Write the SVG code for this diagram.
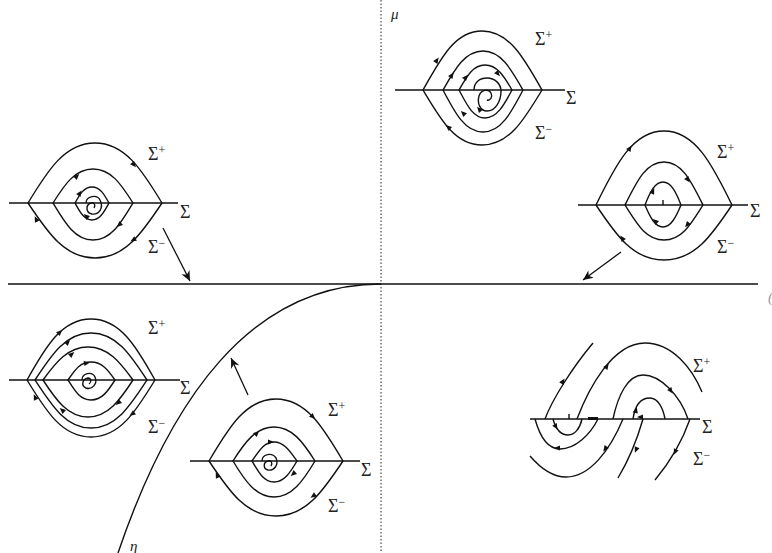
<svg xmlns="http://www.w3.org/2000/svg" xmlns:xlink="http://www.w3.org/1999/xlink" width="772" height="553" viewBox="0 0 772 553">
<style>
.c{fill:none;stroke:#111;stroke-width:1.4}
.s{fill:none;stroke:#111;stroke-width:1.5}
.ax{fill:none;stroke:#111;stroke-width:1.6}
.dot{fill:none;stroke:#222;stroke-width:1;stroke-dasharray:1.5 2}
.cn{fill:none;stroke:#111;stroke-width:1.3}
.l{font-family:"Liberation Serif","DejaVu Serif",serif;font-size:18px;fill:#222}
.sup{font-size:12px}
.it{font-family:"Liberation Serif","DejaVu Serif",serif;font-style:italic;font-size:15px;fill:#222}
.ah{fill:#111}
</style>
<defs>
<path id="t" class="ah" d="M3,0 L-3,-2.6 L-3,2.6Z"/>
<marker id="arr" viewBox="0 0 10 10" refX="10" refY="5" markerWidth="10" markerHeight="10" markerUnits="userSpaceOnUse" orient="auto">
<path d="M0,0.5 L10,5 L0,9.5 L3,5Z" fill="#111"/>
</marker>
</defs>
<rect width="772" height="553" fill="#fff"/>

<g id="axes">
<line class="ax" x1="8" y1="284" x2="758" y2="284"/>
<line class="dot" x1="381" y1="0" x2="381" y2="553"/>
<path class="c" d="M381,284 C250,284 170,400 118,553"/>
<text class="it" x="391" y="19">μ</text>
<text class="it" x="130" y="551">η</text>
<text class="it" x="768" y="302" style="fill:#999">(</text>
</g>

<g id="node-top-left">
<line class="s" x1="9" y1="203" x2="178" y2="203"/>
<path class="c" d="M28,203 C48,170 65,143 95,143 S142,170 162,203 C142,233 125,258 95,258 S48,233 28,203Z"/>
<path class="c" d="M53,203 C65,184 75,169 93,169 S121,184 133,203 C121,223 111,240 93,240 S65,223 53,203Z"/>
<path class="c" d="M75,203 C80,194 84,187 92,187 S104,194 109,203 C104,212 100,220 92,220 S80,212 75,203Z"/>
<path class="c" d="M86,203 C86,196 97,194 100,200 C104,208 99,215 92,214 C86,213 85,205 91,203 C94,202 96,205 94,208"/>
<use xlink:href="#t" transform="translate(134,165) rotate(50)"/>
<use xlink:href="#t" transform="translate(36,219) rotate(-115)"/>
<use xlink:href="#t" transform="translate(77,176) rotate(-45)"/>
<use xlink:href="#t" transform="translate(119,225) rotate(140)"/>
<use xlink:href="#t" transform="translate(133,240) rotate(150)"/>
<use xlink:href="#t" transform="translate(80,193) rotate(-55)"/>
<use xlink:href="#t" transform="translate(86,216) rotate(-140)"/>
<text class="l" x="148" y="160">Σ<tspan class="sup" dy="-6">+</tspan></text>
<text class="l" x="180" y="218">Σ</text>
<text class="l" x="148" y="253">Σ<tspan class="sup" dy="-6">−</tspan></text>
</g>

<g id="node-top-center">
<line class="s" x1="395" y1="90" x2="565" y2="90"/>
<path class="c" d="M423,90 C441,58 455,31 482,31 S524,58 542,90 C524,120 509,145 482,145 S441,120 423,90Z"/>
<path class="c" d="M443,90 C455,69 465,51 483,51 S511,69 523,90 C511,113 501,132 483,132 S455,113 443,90Z"/>
<path class="c" d="M459,90 C467,76 473,65 485,65 S504,76 512,90 C504,105 497,118 485,118 S467,105 459,90Z"/>
<path class="c" d="M474,90 C474,82 480,78 487,78 C495,78 501,84 501,91 C501,102 495,111 487,111 C480,111 477,103 479,96 C481,90 488,88 491,93 C493,97 490,101 487,100"/>
<use xlink:href="#t" transform="translate(437,60) rotate(-55)"/>
<use xlink:href="#t" transform="translate(452,75) rotate(-55)"/>
<use xlink:href="#t" transform="translate(466,77) rotate(-50)"/>
<use xlink:href="#t" transform="translate(498,74) rotate(50)"/>
<use xlink:href="#t" transform="translate(479,109) rotate(-130)"/>
<use xlink:href="#t" transform="translate(463,113) rotate(-135)"/>
<use xlink:href="#t" transform="translate(448,127) rotate(-140)"/>
<text class="l" x="535" y="45">Σ<tspan class="sup" dy="-6">+</tspan></text>
<text class="l" x="566" y="104">Σ</text>
<text class="l" x="535" y="139">Σ<tspan class="sup" dy="-6">−</tspan></text>
</g>

<g id="node-top-right">
<line class="s" x1="578" y1="205" x2="748" y2="205"/>
<path class="c" d="M596,205 C616,164 633,131 664,131 S712,164 732,205 C712,235 695,260 664,260 S616,235 596,205Z"/>
<path class="c" d="M625,205 C637,181 646,162 664,162 S691,181 703,205 C691,224 682,240 664,240 S637,224 625,205Z"/>
<path class="c" d="M645,205 C650,192 655,182 663,182 S676,192 681,205 C676,217 671,227 663,227 S650,217 645,205Z"/>
<line class="c" x1="663" y1="200" x2="663" y2="205"/>
<use xlink:href="#t" transform="translate(630,148) rotate(-55)"/>
<use xlink:href="#t" transform="translate(688,180) rotate(55)"/>
<use xlink:href="#t" transform="translate(653,191) rotate(-65)"/>
<use xlink:href="#t" transform="translate(655,221) rotate(-140)"/>
<use xlink:href="#t" transform="translate(687,225) rotate(130)"/>
<use xlink:href="#t" transform="translate(622,238) rotate(-125)"/>
<text class="l" x="717" y="158">Σ<tspan class="sup" dy="-6">+</tspan></text>
<text class="l" x="750" y="217">Σ</text>
<text class="l" x="717" y="253">Σ<tspan class="sup" dy="-6">−</tspan></text>
</g>

<g id="node-bottom-left">
<line class="s" x1="9" y1="380" x2="180" y2="380"/>
<path class="c" d="M27,380 C46,346 62,319 91,319 S136,346 155,380 C136,411 120,437 91,437 S46,411 27,380Z"/>
<path class="c" d="M35,380 C52,354 66,333 91,333 S130,354 147,380 C130,406 116,428 91,428 S52,406 35,380Z"/>
<path class="c" d="M43,380 C56,362 68,347 88,347 S120,362 133,380 C120,400 108,417 88,417 S56,400 43,380Z"/>
<path class="c" d="M68,380 C75,370 80,362 91,362 S108,370 115,380 C108,391 102,400 91,400 S75,391 68,380Z"/>
<path class="c" d="M82,380 C82,373 92,371 95,377 C98,384 92,390 86,388 C81,386 82,379 88,378 C91,378 92,382 89,384"/>
<use xlink:href="#t" transform="translate(60,332) rotate(-45)"/>
<use xlink:href="#t" transform="translate(68,342) rotate(-45)"/>
<use xlink:href="#t" transform="translate(72,354) rotate(-40)"/>
<use xlink:href="#t" transform="translate(87,363) rotate(-10)"/>
<use xlink:href="#t" transform="translate(35,397) rotate(-115)"/>
<use xlink:href="#t" transform="translate(62,410) rotate(-140)"/>
<use xlink:href="#t" transform="translate(118,403) rotate(140)"/>
<use xlink:href="#t" transform="translate(132,414) rotate(145)"/>
<text class="l" x="148" y="334">Σ<tspan class="sup" dy="-6">+</tspan></text>
<text class="l" x="180" y="394">Σ</text>
<text class="l" x="148" y="433">Σ<tspan class="sup" dy="-6">−</tspan></text>
</g>

<g id="node-bottom-center">
<line class="s" x1="190" y1="461" x2="360" y2="461"/>
<path class="c" d="M209,461 C229,427 246,399 276,399 S323,427 343,461 C323,491 306,516 276,516 S229,491 209,461Z"/>
<path class="c" d="M233,461 C245,442 256,427 274,427 S303,442 315,461 C303,481 292,497 274,497 S245,481 233,461Z"/>
<path class="c" d="M252,461 C259,451 264,442 274,442 S290,451 297,461 C290,473 284,482 274,482 S259,473 252,461Z"/>
<path class="c" d="M262,461 C262,454 272,452 276,458 C279,465 274,471 268,470 C263,469 263,462 268,461 C271,460 273,463 271,466"/>
<use xlink:href="#t" transform="translate(313,417) rotate(45)"/>
<use xlink:href="#t" transform="translate(217,475) rotate(-115)"/>
<use xlink:href="#t" transform="translate(257,433) rotate(-45)"/>
<use xlink:href="#t" transform="translate(271,442) rotate(0)"/>
<use xlink:href="#t" transform="translate(293,474) rotate(140)"/>
<use xlink:href="#t" transform="translate(313,496) rotate(145)"/>
<text class="l" x="328" y="416">Σ<tspan class="sup" dy="-6">+</tspan></text>
<text class="l" x="361" y="476">Σ</text>
<text class="l" x="328" y="512">Σ<tspan class="sup" dy="-6">−</tspan></text>
</g>

<g id="node-bottom-right">
<line class="s" x1="530" y1="419" x2="700" y2="419"/>
<path class="c" d="M545,419 C552,400 572,368 593,343"/>
<path class="c" d="M577,419 C588,390 612,343 645,343 C672,343 692,368 702,392"/>
<path class="c" d="M613,419 C618,395 628,375 643,375 C660,375 680,395 688,419"/>
<path class="c" d="M633,419 C635,405 641,398 650,398 C658,398 663,408 665,419"/>
<path class="c" d="M553,419 C556,430 561,435 568,435 C575,435 580,428 582,419"/>
<path class="c" d="M535,419 C540,437 548,449 560,449 C575,449 590,435 598,419"/>
<path class="c" d="M530,456 C542,470 553,477 566,477 C590,477 610,450 623,419"/>
<path class="c" d="M643,419 C637,440 630,458 618,478"/>
<path class="c" d="M690,419 C682,442 670,462 655,480"/>
<line class="c" x1="569" y1="414" x2="569" y2="419"/>
<line x1="588" y1="418.5" x2="598" y2="418.5" stroke="#111" stroke-width="3"/>
<use xlink:href="#t" transform="translate(640,417) rotate(180)"/>
<use xlink:href="#t" transform="translate(563,381) rotate(-58)"/>
<use xlink:href="#t" transform="translate(607,366) rotate(-55)"/>
<use xlink:href="#t" transform="translate(671,391) rotate(55)"/>
<use xlink:href="#t" transform="translate(636,410) rotate(-75)"/>
<use xlink:href="#t" transform="translate(556,427) rotate(60)"/>
<use xlink:href="#t" transform="translate(557,448) rotate(180)"/>
<use xlink:href="#t" transform="translate(605,449) rotate(125)"/>
<use xlink:href="#t" transform="translate(636,450) rotate(112)"/>
<use xlink:href="#t" transform="translate(675,452) rotate(115)"/>
<text class="l" x="693" y="372">Σ<tspan class="sup" dy="-6">+</tspan></text>
<text class="l" x="702" y="433">Σ</text>
<text class="l" x="693" y="465">Σ<tspan class="sup" dy="-6">−</tspan></text>
</g>

<g id="connectors">
<line class="cn" x1="163" y1="228" x2="190" y2="281" marker-end="url(#arr)"/>
<line class="cn" x1="621" y1="252" x2="583" y2="280" marker-end="url(#arr)"/>
<line class="cn" x1="248" y1="395" x2="231" y2="358" marker-end="url(#arr)"/>
</g>
</svg>
